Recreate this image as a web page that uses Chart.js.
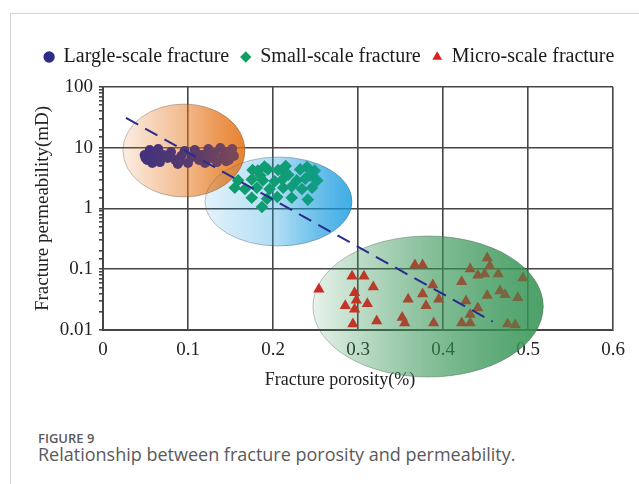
<!DOCTYPE html>
<html>
<head>
<meta charset="utf-8">
<script src="https://cdn.jsdelivr.net/npm/chart.js@4/dist/chart.umd.min.js"></script>
<style>
  body { margin: 0; background: #fff; width: 639px; height: 484px; overflow: hidden; position: relative; }
  .frame { position: absolute; left: 10px; top: 13px; right: 0; bottom: 0; border-left: 1px solid #d4d4d4; border-top: 1px solid #d4d4d4; }
  #wrap { position: absolute; left: 0; top: 0; width: 639px; height: 400px; }
  .cap { position: absolute; left: 38px; font-family: 'Open Sans', sans-serif; color: #5a5a5a; white-space: nowrap; }
  .fig { top: 429px; font-size: 13px; font-weight: 600; }
  .desc { top: 442px; font-size: 18px; }
</style>
</head>
<body>
<div class="frame"></div>
<div id="wrap"><canvas id="chart" width="639" height="400"></canvas></div>
<div class="cap fig">FIGURE 9</div>
<div class="cap desc">Relationship between fracture porosity and permeability.</div>
<script>
// series labels
const seriesNames = ['Largle-scale fracture', 'Small-scale fracture', 'Micro-scale fracture'];

// large-scale fractures (porosity %, permeability mD)
const largeX = [0.049, 0.052, 0.055, 0.058, 0.061, 0.065, 0.067, 0.071, 0.076, 0.080, 0.085, 0.088, 0.092, 0.096, 0.100,
  0.104, 0.108, 0.113, 0.116, 0.120, 0.124, 0.127, 0.131, 0.134, 0.138, 0.141, 0.145, 0.148, 0.152, 0.154,
  0.060, 0.090, 0.110, 0.125, 0.145, 0.050];
const largeY = [7.6, 6.3, 9.2, 5.6, 7.0, 9.5, 5.8, 7.6, 6.8, 8.5, 6.3, 5.4, 7.3, 8.8, 5.6,
  7.0, 9.2, 6.3, 7.6, 5.6, 9.5, 6.8, 8.2, 5.8, 9.9, 7.0, 8.5, 6.3, 9.5, 7.3,
  8.2, 6.0, 8.0, 7.3, 6.0, 6.8];

// small-scale fractures
const smallX = [0.176, 0.182, 0.194, 0.206, 0.212, 0.232, 0.249, 0.190, 0.215, 0.240,
  0.185, 0.218, 0.244,
  0.159, 0.175, 0.188, 0.202, 0.211, 0.228, 0.238, 0.252,
  0.155, 0.167, 0.181, 0.196, 0.212, 0.222, 0.234, 0.246,
  0.175, 0.193, 0.205, 0.222, 0.241, 0.187];
const smallY = [4.3, 4.2, 4.4, 4.3, 4.1, 4.4, 4.2, 4.9, 5.0, 4.8,
  3.5, 3.6, 3.5,
  2.9, 3.0, 2.9, 2.8, 3.0, 2.9, 3.1, 2.9,
  2.2, 2.1, 2.2, 2.1, 2.2, 2.3, 2.1, 2.2,
  1.5, 1.45, 1.55, 1.5, 1.4, 1.06];

// micro-scale fractures
const microX = [0.254, 0.293, 0.307, 0.318, 0.296, 0.298, 0.285, 0.311, 0.296, 0.294, 0.322,
  0.359, 0.352, 0.355, 0.367, 0.376, 0.388, 0.376, 0.395, 0.380, 0.389,
  0.452, 0.455, 0.432, 0.441, 0.449, 0.465, 0.422, 0.494, 0.452, 0.427,
  0.467, 0.473, 0.488, 0.441, 0.432, 0.422, 0.432, 0.476, 0.485];
const microY = [0.047, 0.077, 0.077, 0.051, 0.041, 0.031, 0.025, 0.027, 0.022, 0.0126, 0.014,
  0.032, 0.016, 0.013, 0.118, 0.118, 0.055, 0.039, 0.032, 0.025, 0.013,
  0.153, 0.113, 0.101, 0.080, 0.0835, 0.0835, 0.062, 0.072, 0.037, 0.030,
  0.044, 0.038, 0.034, 0.023, 0.018, 0.013, 0.013, 0.0126, 0.0121];

// dashed trend line end points
const trendX = [0.027, 0.4585];
const trendY = [31.0, 0.0137];

// axis ticks
const xTicks = [0, 0.1, 0.2, 0.3, 0.4, 0.5, 0.6];
const yTicks = [0.01, 0.1, 1, 10, 100];

// shaded ellipses, in data units: [xMin, xMax, yMin, yMax]
const ellipses = [
  { box: [0.247, 0.518, 0.00168, 0.353], rgb: '52,148,84', under: 0.6, over: 0.7, mid: 0.55 },
  { box: [0.120, 0.293, 0.241, 7.05], rgb: '22,155,222', under: 0.7, over: 0.4, mid: 0.35 },
  { box: [0.0235, 0.167, 1.55, 52.5], rgb: '228,112,18', under: 0.75, over: 0.45, mid: 0.45 }
];

const pts = (xs, ys) => xs.map((x, i) => ({ x: x, y: ys[i] }));

function drawEllipses(chart, under) {
  const { ctx, scales: { x, y } } = chart;
  ctx.save();
  ellipses.forEach(e => {
    const l = x.getPixelForValue(e.box[0]), r = x.getPixelForValue(e.box[1]);
    const b = y.getPixelForValue(e.box[2]), t = y.getPixelForValue(e.box[3]);
    const g = ctx.createLinearGradient(l, 0, r, 0);
    const a = under ? e.under : e.over;
    g.addColorStop(0, 'rgba(' + e.rgb + ',0.06)');
    g.addColorStop(0.5, 'rgba(' + e.rgb + ',' + (a * e.mid) + ')');
    g.addColorStop(1, 'rgba(' + e.rgb + ',' + a + ')');
    ctx.beginPath();
    ctx.ellipse((l + r) / 2, (t + b) / 2, (r - l) / 2, (b - t) / 2, 0, 0, Math.PI * 2);
    ctx.fillStyle = g;
    ctx.fill();
    if (!under) {
      ctx.strokeStyle = 'rgba(80,80,80,0.35)';
      ctx.lineWidth = 1;
      ctx.stroke();
    }
  });
  ctx.restore();
}

const ellipsePlugin = {
  id: 'ellipses',
  beforeInit(chart) {
    const fit = chart.legend.fit;
    chart.legend.fit = function () { fit.call(this); this.height = 87 - 35; };
  },
  beforeDatasetsDraw(chart) { drawEllipses(chart, true); },
  beforeDatasetDraw(chart, args) {
    if (args.meta.type === 'line') drawEllipses(chart, false);
  }
};

Chart.defaults.font.family = "'Liberation Serif', 'Times New Roman', serif";
Chart.defaults.color = '#222';

const gridColor = '#464646';

new Chart(document.getElementById('chart'), {
  type: 'scatter',
  data: {
    datasets: [
      { label: seriesNames[0], data: pts(largeX, largeY), pointStyle: 'circle', pointRadius: 5,
        backgroundColor: '#2f2b88', borderWidth: 0, order: 1 },
      { label: seriesNames[1], data: pts(smallX, smallY), pointStyle: 'rectRot', pointRadius: 6.3,
        backgroundColor: '#0f9d62', borderWidth: 0, order: 1 },
      { label: seriesNames[2], data: pts(microX, microY), pointStyle: 'triangle', pointRadius: 6.5,
        backgroundColor: '#e0201f', borderWidth: 0, order: 1 },
      { type: 'line', label: 'trend', data: pts(trendX, trendY), borderColor: '#2b2b8e', borderWidth: 2,
        borderDash: [14, 8], pointRadius: 0, fill: false, order: 0 }
    ]
  },
  options: {
    responsive: false,
    animation: false,
    layout: { padding: { top: 35, left: 20, right: 0, bottom: 0 } },
    plugins: {
      tooltip: { enabled: false },
      legend: {
        position: 'top',
        labels: {
          usePointStyle: true, boxWidth: 9, boxHeight: 8, padding: 12,
          font: { size: 20 }, color: '#1a1a1a',
          filter: item => item.datasetIndex < 3
        }
      }
    },
    scales: {
      x: {
        type: 'linear', min: 0, max: 0.6,
        afterFit(s) { s.height = 70; },
        afterBuildTicks(s) { s.ticks = xTicks.map(v => ({ value: v })); },
        grid: { color: gridColor, lineWidth: 1.6, drawTicks: false },
        border: { color: gridColor, width: 2 },
        ticks: { padding: 9, font: { size: 19 }, color: '#222',
          callback: v => v === 0 ? '0' : v.toFixed(1) },
        title: { display: true, text: 'Fracture porosity(%)        ', font: { size: 18 },
          color: '#222', padding: { top: 0, bottom: 9 } }
      },
      y: {
        type: 'logarithmic', min: 0.01, max: 100,
        afterFit(s) { s.width = 83; },
        grid: {
          color: c => isMajor(c.tick.value) ? gridColor : 'rgba(0,0,0,0)',
          tickColor: gridColor, lineWidth: 1.6, tickLength: 4
        },
        border: { color: gridColor, width: 2 },
        ticks: { autoSkip: false, padding: 6, font: { size: 19 }, color: '#222',
          callback: v => isMajor(v) ? String(yTicks.find(t => Math.abs(t - v) / t < 1e-6)) : '' },
        title: { display: true, text: 'Fracture permeability(mD)', font: { size: 19 },
          color: '#222', padding: { top: 12, bottom: 0 } }
      },
      // empty strip that keeps the plot's right edge in place
      edge: {
        type: 'linear', position: 'right', display: true,
        afterFit(s) { s.width = 26; },
        grid: { display: false, drawOnChartArea: false },
        border: { display: false },
        ticks: { display: false }
      }
    }
  },
  plugins: [ellipsePlugin]
});

function isMajor(v) {
  const l = Math.log10(v);
  return Math.abs(l - Math.round(l)) < 1e-6;
}
</script>
</body>
</html>
